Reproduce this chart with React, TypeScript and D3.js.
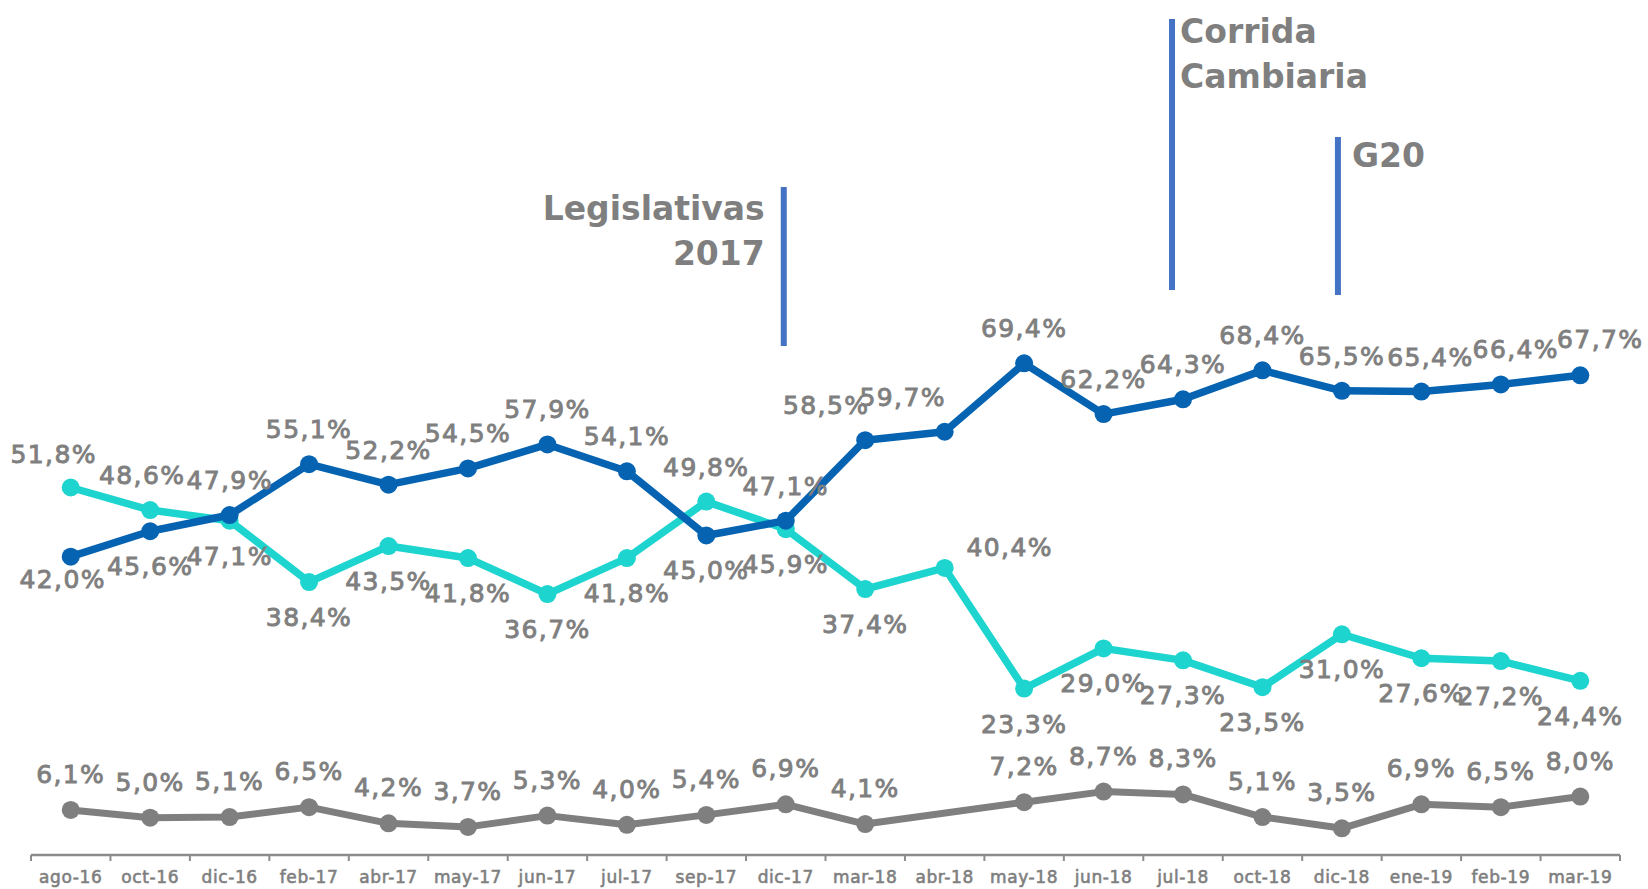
import React from "react";
import * as d3 from "d3";

const months = ["ago-16","oct-16","dic-16","feb-17","abr-17","may-17","jun-17","jul-17","sep-17","dic-17","mar-18","abr-18","may-18","jun-18","jul-18","oct-18","dic-18","ene-19","feb-19","mar-19"];
const seriesDark = [42.0,45.6,47.9,55.1,52.2,54.5,57.9,54.1,45.0,47.1,58.5,59.7,69.4,62.2,64.3,68.4,65.5,65.4,66.4,67.7];
const seriesCyan = [51.8,48.6,47.1,38.4,43.5,41.8,36.7,41.8,49.8,45.9,37.4,40.4,23.3,29.0,27.3,23.5,31.0,27.6,27.2,24.4];
const seriesGray: (number | null)[] = [6.1,5.0,5.1,6.5,4.2,3.7,5.3,4.0,5.4,6.9,4.1,null,7.2,8.7,8.3,5.1,3.5,6.9,6.5,8.0];

const eventMonths = ["dic-17", "jul-18", "dic-18"];
const eventTexts = [["Legislativas", "2017"], ["Corrida", "Cambiaria"], ["G20"]];

// label placement (layout only): t = above, b = below, r = right
const darkPlace = ["b","b","t","t","t","t","t","t","b","t","t","t","t","t","t","t","t","t","t","t"];
const cyanPlace = ["t","t","b","b","b","b","b","b","t","b","b","r","b","b","b","b","b","b","b","b"];

const W = 1648, H = 889;
const C_DARK = "#0563B2";
const C_CYAN = "#1DD4CF";
const C_GRAY = "#7F7F7F";
const C_TEXT = "#7F7F7F";
const C_EVENT = "#4472C4";
const FONT = "'DejaVu Sans', sans-serif";

const fmt = (v: number) => v.toFixed(1).replace(".", ",") + "%";

export default function App() {
  const x = d3.scaleBand<string>().domain(months).range([31, 1620]).padding(0);
  const cx = (m: string) => (x(m) as number) + x.bandwidth() / 2;
  const y = d3.scaleLinear().domain([0, 100]).range([853, 147.4]);

  const line = d3.line<[number, number]>().x(d => d[0]).y(d => d[1]);

  const pts = (vals: (number | null)[]) =>
    vals.map((v, i) => (v == null ? null : { x: cx(months[i]), y: y(v), v, i })).filter(Boolean) as { x: number; y: number; v: number; i: number }[];

  const dark = pts(seriesDark);
  const cyan = pts(seriesCyan);
  const gray = pts(seriesGray);

  const darkOff: Record<number, [number, number]> = { 0: [-8, 31], 10: [-39, -26], 11: [-42, -26], 17: [9, -26], 18: [15, -26], 19: [20, -27] };
  const cyanOff: Record<number, [number, number]> = { 0: [-17, -24], 1: [-8, -26] };

  const labelPos = (p: { x: number; y: number; i: number }, place: string, off: Record<number, [number, number]>) => {
    if (off[p.i]) return [p.x + off[p.i][0], p.y + off[p.i][1]];
    if (place === "t") return [p.x, p.y - 26];
    if (place === "b") return [p.x, p.y + 44];
    if (place === "r") return [p.x + 65, p.y - 12];
    return [p.x, p.y];
  };

  const labelStyle: React.CSSProperties = {
    fontFamily: FONT,
    fontSize: 25,
    letterSpacing: 1.4,
    fill: C_TEXT,
    stroke: C_TEXT,
    strokeWidth: 0.9,
  };

  const series = [
    { data: gray, color: C_GRAY, width: 7 },
    { data: cyan, color: C_CYAN, width: 7.5 },
    { data: dark, color: C_DARK, width: 7.5 },
  ];

  // event marker geometry (layout)
  const evGeom = [
    { dx: -2, top: 187, bottom: 346, tx: -19, ty: [220, 265], anchor: "end" },
    { dx: -11, top: 19, bottom: 290, tx: 8, ty: [43, 88], anchor: "start" },
    { dx: -4, top: 137, bottom: 295, tx: 14, ty: [167], anchor: "start" },
  ];

  return (
    <svg width={W} height={H} style={{ position: "absolute", left: 0, top: 0, background: "#fff" }}>
      {/* axis */}
      <line x1={31} x2={1620} y1={855} y2={855} stroke="#8C8C8C" strokeWidth={2.5} />
      {d3.range(months.length + 1).map(i => {
        const xx = i < months.length ? (x(months[i]) as number) : 1620;
        return <line key={"t" + i} x1={xx} x2={xx} y1={855} y2={861} stroke="#8C8C8C" strokeWidth={2} />;
      })}
      {months.map(m => (
        <text key={m} x={cx(m)} y={883} textAnchor="middle" fontFamily={FONT} fontSize={17} fill={C_TEXT} stroke={C_TEXT} strokeWidth={0.6} letterSpacing={0.6}>
          {m}
        </text>
      ))}

      {/* event markers */}
      {eventMonths.map((m, k) => {
        const g = evGeom[k];
        const lx = cx(m) + g.dx;
        return (
          <g key={m}>
            <line x1={lx} x2={lx} y1={g.top} y2={g.bottom} stroke={C_EVENT} strokeWidth={6} />
            {eventTexts[k].map((t, j) => (
              <text key={t} x={lx + g.tx} y={g.ty[j]} textAnchor={g.anchor as any} fontFamily={FONT} fontWeight="bold" fontSize={33} fill={C_TEXT}>
                {t}
              </text>
            ))}
          </g>
        );
      })}

      {/* lines */}
      {series.map((s, k) => (
        <g key={k}>
          <path d={line(s.data.map(p => [p.x, p.y] as [number, number])) || ""} fill="none" stroke={s.color} strokeWidth={s.width} strokeLinejoin="round" />
          {s.data.map(p => (
            <circle key={p.i} cx={p.x} cy={p.y} r={9} fill={s.color} />
          ))}
        </g>
      ))}

      {/* labels */}
      {gray.map(p => (
        <text key={"g" + p.i} x={p.x} y={p.y - 27} textAnchor="middle" style={labelStyle}>{fmt(p.v)}</text>
      ))}
      {cyan.map(p => {
        const [lx, ly] = labelPos(p, cyanPlace[p.i], cyanOff);
        return <text key={"c" + p.i} x={lx} y={ly} textAnchor="middle" style={labelStyle}>{fmt(p.v)}</text>;
      })}
      {dark.map(p => {
        const [lx, ly] = labelPos(p, darkPlace[p.i], darkOff);
        return <text key={"d" + p.i} x={lx} y={ly} textAnchor="middle" style={labelStyle}>{fmt(p.v)}</text>;
      })}
    </svg>
  );
}
